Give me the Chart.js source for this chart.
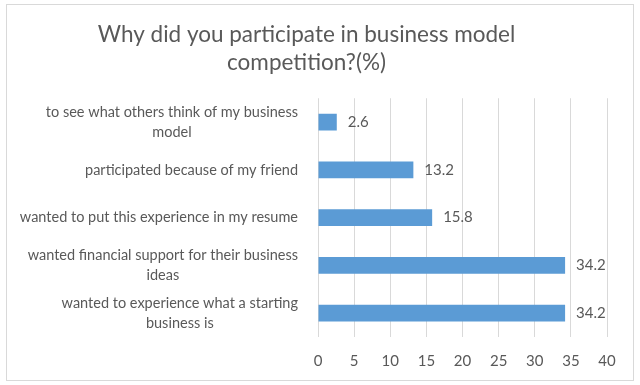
<!DOCTYPE html>
<html>
<head>
<meta charset="utf-8">
<script src="https://cdn.jsdelivr.net/npm/chart.js@4"></script>
<style>
  html, body { margin: 0; padding: 0; background: #fff; }
  #wrap { width: 640px; height: 385px; position: relative; }
</style>
</head>
<body>
<div id="wrap"><canvas id="reasonChart" width="640" height="385"></canvas></div>
<script>
// Categories (top to bottom) and their percentages
const categories = [
    ['to see what others think of my business', 'model'],
    ['participated because of my friend'],
    ['wanted to put this experience in my resume'],
    ['wanted financial support for their business', 'ideas'],
    ['wanted to experience what a starting', 'business is']
];
const percentages = [2.6, 13.2, 15.8, 34.2, 34.2];
const titleLines = ['Why did you participate in business model', 'competition?(%)'];
const xTicks = [0, 5, 10, 15, 20, 25, 30, 35, 40];

const textColor = '#595959';
const fontFamily = 'Lato, "Open Sans", sans-serif';

// Draws the category labels (right aligned blocks, centered lines), value labels and the outer border
const extras = {
    id: 'extras',
    afterDraw(chart) {
        const ctx = chart.ctx;
        const y = chart.scales.y;
        const x = chart.scales.x;
        ctx.save();
        ctx.fillStyle = textColor;
        ctx.font = '14.5px ' + fontFamily;
        ctx.textBaseline = 'middle';
        const lineH = 20;
        categories.forEach((lines, i) => {
            const cy = y.getPixelForTick(i);
            const widths = lines.map(l => ctx.measureText(l).width);
            const blockW = Math.max(...widths);
            const right = x.left - 20;
            const cx = right - blockW / 2;
            ctx.textAlign = 'center';
            lines.forEach((l, j) => {
                ctx.fillText(l, cx, cy + (j - (lines.length - 1) / 2) * lineH);
            });
        });
        // value labels
        const meta = chart.getDatasetMeta(0);
        ctx.font = '15px ' + fontFamily;
        ctx.textAlign = 'left';
        meta.data.forEach((bar, i) => {
            ctx.fillText(String(percentages[i]), bar.x + 11, bar.y);
        });
        // chart border
        ctx.strokeStyle = '#d9d9d9';
        ctx.lineWidth = 1;
        ctx.strokeRect(6.5, 4.5, 627, 376);
        ctx.restore();
    }
};

new Chart(document.getElementById('reasonChart'), {
    type: 'bar',
    data: {
        labels: categories,
        datasets: [{
            data: percentages,
            backgroundColor: '#5b9bd5',
            borderWidth: 0,
            barPercentage: 0.35,
            categoryPercentage: 1
        }]
    },
    options: {
        indexAxis: 'y',
        responsive: false,
        animation: false,
        layout: { padding: { left: 6, right: 33, top: 4, bottom: 0 } },
        scales: {
            x: {
                min: 0,
                max: 40,
                afterBuildTicks(scale) {
                    scale.ticks = xTicks.map(v => ({ value: v }));
                },
                grid: { color: '#d9d9d9', drawTicks: false },
                border: { display: false },
                ticks: {
                    color: textColor,
                    font: { family: fontFamily, size: 15 },
                    padding: 15
                }
            },
            y: {
                grid: { display: false },
                border: { display: false },
                ticks: { display: false },
                afterFit(scale) { scale.width = 312; }
            }
        },
        plugins: {
            legend: { display: false },
            tooltip: { enabled: false },
            title: {
                display: true,
                text: titleLines,
                color: textColor,
                font: { family: fontFamily, size: 22.5, weight: 'normal', lineHeight: 1.25 },
                padding: { top: 17, bottom: 21 }
            }
        }
    },
    plugins: [extras]
});
</script>
</body>
</html>
